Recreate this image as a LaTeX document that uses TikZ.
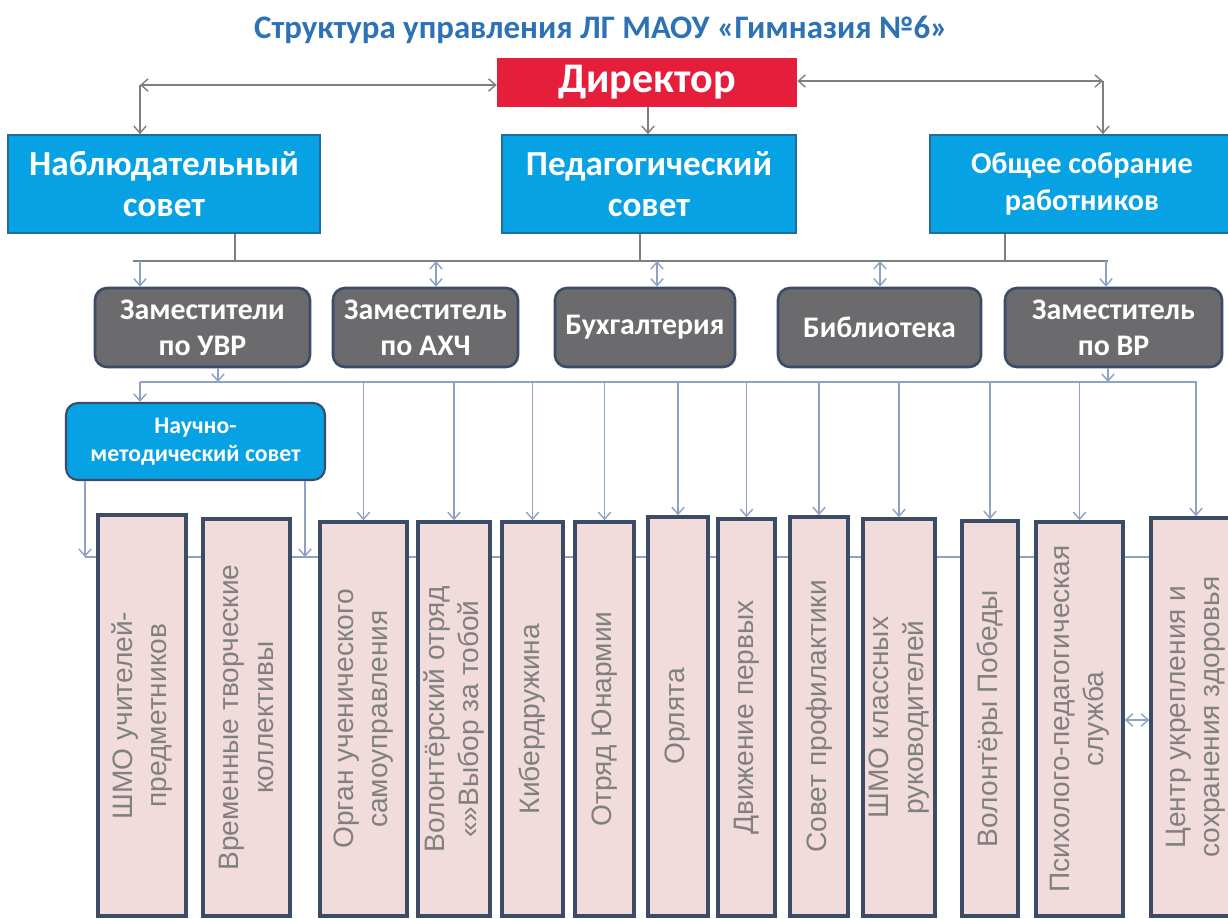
\documentclass[tikz,border=0pt]{standalone}
\usepackage{fontspec}
\setmainfont{Carlito}
\newfontfamily\grayfont{Liberation Sans}
\usetikzlibrary{fit,arrows.meta}
\definecolor{titleblue}{HTML}{2E72B6}
\definecolor{dirred}{HTML}{E51E3C}
\definecolor{skyblue}{HTML}{06A2E4}
\definecolor{bordblue}{HTML}{1D6E9E}
\definecolor{boxgray}{HTML}{6B6B6D}
\definecolor{slate}{HTML}{3C4C66}
\definecolor{boxpink}{HTML}{F2DCDB}
\definecolor{txtgray}{HTML}{808080}
\definecolor{linegray}{HTML}{7F7F7F}
\definecolor{lineblue}{HTML}{8DA2C4}
\tikzset{
  topbox/.style={draw=bordblue, line width=1pt, fill=skyblue, inner sep=0pt},
  toptext/.style={text=white, align=center, font=\bfseries\fontsize{20}{23}\selectfont},
  deptbox/.style={rounded corners=0.24cm, draw=slate, line width=1.5pt, fill=boxgray, inner sep=0pt},
  depttext/.style={text=white, align=center, font=\bfseries\fontsize{17}{20.5}\selectfont},
  pinkbox/.style={draw=slate, line width=2pt, fill=boxpink, inner sep=0pt},
  pinktext/.style={rotate=90, text=txtgray, align=center, font=\grayfont\fontsize{16}{19.5}\selectfont},
  conn/.style={draw=linegray, line width=0.8pt},
  bconn/.style={draw=lineblue, line width=0.8pt},
  >={Straight Barb[length=4pt,width=7pt]}
}
\begin{document}
\begin{tikzpicture}[x=0.02cm,y=-0.02cm]
\useasboundingbox[fill=white] (0,0) rectangle (1228,919);
% title
\node[text=titleblue, font=\bfseries\fontsize{18.7}{22}\selectfont] (title) at (601,30) {Структура управления ЛГ МАОУ «Гимназия №6»};
% top level
\node[fill=dirred, inner sep=0pt, fit={(497,58) (797,107)}] (dir) {};
\node[text=white, font=\bfseries\fontsize{24}{27}\selectfont] (dir-t) at (dir) {Директор};
\node[topbox, fit={(8,135) (320,233)}] (nab) {};
\node[toptext] (nab-t) at (nab) {Наблюдательный\\совет};
\node[topbox, fit={(502,135) (796,233)}] (ped) {};
\node[toptext] (ped-t) at (ped) {Педагогический\\совет};
\node[topbox, fit={(930,135) (1240,233)}] (obs) {};
\node[toptext, font=\bfseries\fontsize{17.2}{21}\selectfont] (obs-t) at (1082,184) {Общее собрание\\работников};
\coordinate (cl) at (140,85);
\coordinate (cr) at (1103,81);
\draw[conn,<->] (dir.west |- cl) -- (cl);
\draw[conn,->] (cl) -- (nab.north -| cl);
\draw[conn,<->] (dir.east |- cr) -- (cr);
\draw[conn,->] (cr) -- (obs.north -| cr);
\draw[conn,->] (dir.south -| 648,0) -- (ped.north -| 648,0);
% second level
\node[deptbox, fit={(95,288) (310,367)}] (uvr) {};
\node[depttext] (uvr-t) at (uvr) {Заместители\\по УВР};
\node[deptbox, fit={(333,288) (518,367)}] (axc) {};
\node[depttext] (axc-t) at (axc) {Заместитель\\по АХЧ};
\node[deptbox, fit={(555,288) (735,367)}] (buh) {};
\node[depttext] (buh-t) at (buh) {Бухгалтерия};
\node[deptbox, fit={(778,288) (981,367)}] (bib) {};
\node[depttext] (bib-t) at (bib) {Библиотека};
\node[deptbox, fit={(1005,288) (1222,367)}] (vr) {};
\node[depttext] (vr-t) at (vr) {Заместитель\\по ВР};
\coordinate (busA) at (133,261);
\coordinate (busAe) at (1108,261);
\draw[conn] (busA) -- (busAe);
\draw[conn] (nab.south -| 235,0) -- (busA -| 235,0);
\draw[conn] (ped.south -| 640,0) -- (busA -| 640,0);
\draw[conn] (obs.south -| 1005,0) -- (busA -| 1005,0);
\draw[bconn,->] (busA -| 140,0) -- (uvr.north -| 140,0);
\draw[bconn,<->] (busA -| 436,0) -- (axc.north -| 436,0);
\draw[bconn,<->] (busA -| 657,0) -- (buh.north -| 657,0);
\draw[bconn,<->] (busA -| 880,0) -- (bib.north -| 880,0);
\draw[bconn,->] (busA -| 1106,0) -- (vr.north -| 1106,0);
% third level
\node[topbox, rounded corners=0.24cm, draw=slate, line width=1.2pt, fit={(66,403) (325,480)}] (nmc) {};
\node[toptext, font=\bfseries\fontsize{13.5}{16}\selectfont] (nmc-t) at (nmc) {Научно-\\методический совет};
\coordinate (busB) at (140,382);
\coordinate (busBe) at (1197,382);
\coordinate (busC) at (85,557);
\coordinate (busCe) at (1228,557);
\draw[bconn] (busB) -- (busBe);
\draw[bconn] (busC) -- (busCe);
\draw[bconn,->] (uvr.south -| 218,0) -- (busB -| 218,0);
\draw[bconn,->] (vr.south -| 1108,0) -- (busB -| 1108,0);
\draw[bconn,->] (busB) -- (nmc.north -| busB);
\draw[bconn,->] (nmc.south -| busC) -- (busC);
\draw[bconn,->] (nmc.south -| 305,0) -- (busC -| 305,0);
% bottom row
\foreach \nm/\xa/\xb/\yt/\txt in {
  shmo/98/186/515/{ШМО учителей-\\предметников},
  vtk/203/290/519/{Временные творческие\\коллективы},
  ous/320/407/522/{Орган ученического\\самоуправления},
  vol/418/490/522/{Волонтёрский отряд\\«»Выбор за тобой},
  kib/502/563/522/{Кибердружина},
  una/575/634/522/{Отряд Юнармии},
  orl/648/708/517/{Орлята},
  dvp/718/775/519/{Движение первых},
  sov/790/848/517/{Совет профилактики},
  shk/863/935/519/{ШМО классных\\руководителей},
  vpo/962/1018/521/{Волонтёры Победы},
  psy/1036/1123/522/{Психолого-педагогическая\\служба},
  cen/1151/1241/518/{Центр укрепления и\\сохранения здоровья}}{
  \node[pinkbox, fit={(\xa,\yt) (\xb,916)}] (\nm) {};
  \node[pinktext] (\nm-t) at (\nm.center) {\txt};
}
\foreach \nm in {ous,vol,kib,una,orl,dvp,sov,shk,vpo,psy,cen}
  \draw[bconn,->] (busB -| \nm) -- (\nm.north);
\draw[bconn,<->] (psy.east |- 0,720) -- (cen.west |- 0,720);
\end{tikzpicture}
\end{document}
